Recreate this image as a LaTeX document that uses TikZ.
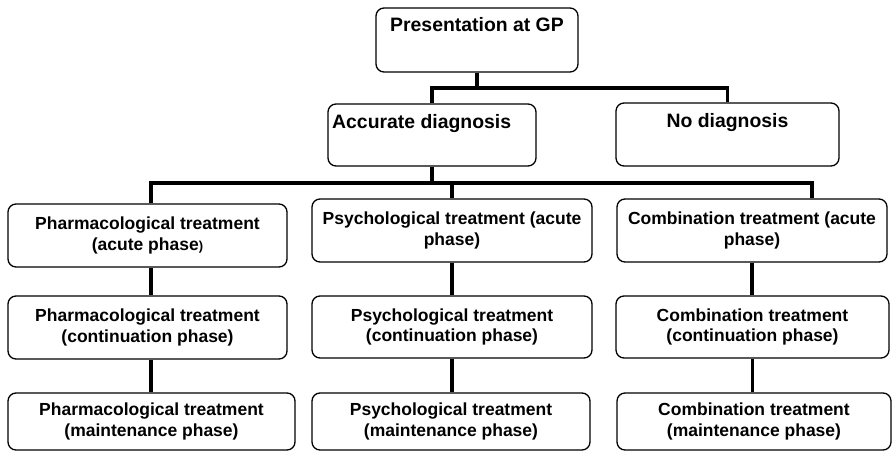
\documentclass[tikz,border=0pt]{standalone}
\usepackage{fontspec}
\setmainfont{Liberation Sans}
\begin{document}
\begin{tikzpicture}[x=1pt,y=-1pt,
  box/.style={draw=black, line width=1.3pt, rounded corners=8pt, rectangle, inner sep=0pt, align=center,
    font=\bfseries\fontsize{17.5}{20.5}\selectfont},
  toptext/.style={inner sep=0pt, font=\bfseries\fontsize{19.4}{22}\selectfont},
  conn/.style={draw=black, line width=3.6pt}]
\useasboundingbox (0,0) rectangle (893,452);
% top tier
\node[box, minimum width=202pt, minimum height=64pt] (gp) at (477,40) {};
\node[toptext, anchor=base] (gpt) at (477,32) {Presentation at GP};
\node[box, minimum width=208pt, minimum height=62pt] (acc) at (432,135) {};
\node[toptext, anchor=base west] (acct) at (332,128) {Accurate diagnosis};
\node[box, minimum width=223pt, minimum height=63pt] (nod) at (727.5,134.5) {};
\node[toptext, anchor=base] (nodt) at (727.5,127) {No diagnosis};
% acute
\node[box, minimum width=279pt, minimum height=63pt] (pa) at (147.5,235.5) {Pharmacological treatment\\(acute phase{\fontsize{13}{13}\selectfont)}};
\node[box, minimum width=280pt, minimum height=63pt] (pp) at (452,230.5) {Psychological treatment (acute\\phase)};
\node[box, minimum width=270pt, minimum height=63pt] (ca) at (752,230.5) {Combination treatment (acute\\phase)};
% continuation
\node[box, minimum width=279pt, minimum height=63pt] (pc) at (147.5,327.5) {Pharmacological treatment\\(continuation phase)};
\node[box, minimum width=280pt, minimum height=62pt] (psc) at (452,327) {Psychological treatment\\(continuation phase)};
\node[box, minimum width=273pt, minimum height=62pt] (cc) at (752.5,327) {Combination treatment\\(continuation phase)};
% maintenance
\node[box, minimum width=287pt, minimum height=57pt] (pm) at (151.5,421.5) {Pharmacological treatment\\(maintenance phase)};
\node[box, minimum width=278pt, minimum height=57pt] (psm) at (451,421.5) {Psychological treatment\\(maintenance phase)};
\node[box, minimum width=274pt, minimum height=57pt] (cm) at (754,421.5) {Combination treatment\\(maintenance phase)};
% junctions
\coordinate (j1) at (477,88);
\coordinate (t1) at (151,183);
\coordinate (t3) at (812,183);
% connectors
\draw[conn] (gp.south) -- (j1);
\draw[conn] (acc.north) |- (j1) -| (nod.north);
\draw[conn] (acc.south) -- (acc.south |- t1);
\draw[conn] (t1 |- pa.north) -- (t1) -- (t3) -- (t3 |- ca.north);
\draw[conn] (pp.north) -- (pp.north |- t1);
\draw[conn] (t1 |- pa.south) -- (t1 |- pc.north);
\draw[conn] (t1 |- pc.south) -- (t1 |- pm.north);
\draw[conn] (psc.north -| pp.south) -- (pp.south);
\draw[conn] (psc.south) -- (psc.south |- psm.north);
\draw[conn] (ca.south) -- (ca.south |- cc.north);
\draw[conn] (cc.south) -- (cc.south |- cm.north);
\end{tikzpicture}
\end{document}
